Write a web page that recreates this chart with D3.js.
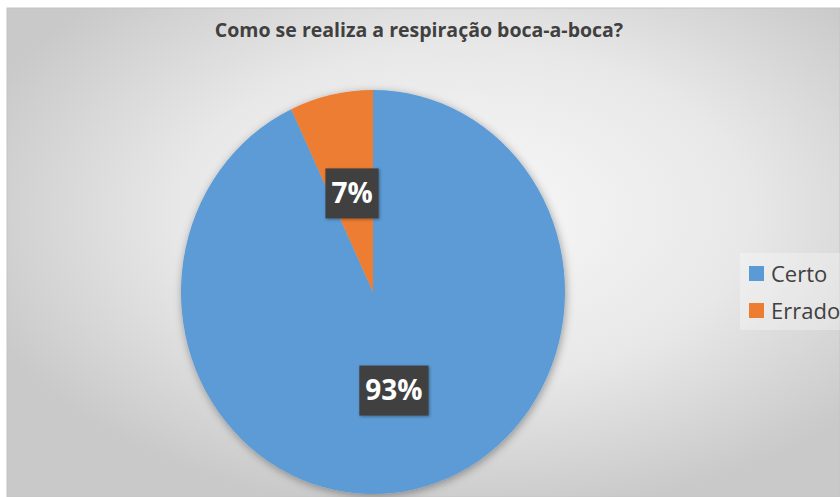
<!DOCTYPE html>
<html>
<head>
<meta charset="utf-8">
<script src="https://cdn.jsdelivr.net/npm/d3@7"></script>
<style>
  body { margin: 0; background: #fff; }
  svg { display: block; }
</style>
</head>
<body>
<div id="chart"></div>
<script>
const categories = ["Certo", "Errado"];
const values = [93, 7];
const labels = ["93%", "7%"];
const title = "Como se realiza a respiração boca-a-boca?";

const width = 840, height = 497;
const cx = 373, cy = 292;
const r = 192;
const stretch = 202 / 192;

const color = d3.scaleOrdinal()
  .domain(categories)
  .range(["#5b9bd5", "#ed7d31"]);

const svg = d3.select("#chart")
  .append("svg")
    .attr("width", width)
    .attr("height", height);

const defs = svg.append("defs");

const grad = defs.append("radialGradient")
  .attr("id", "bg")
  .attr("cx", "55%").attr("cy", "42%").attr("r", "62%");
grad.append("stop").attr("offset", "0%").attr("stop-color", "#f8f8f8");
grad.append("stop").attr("offset", "55%").attr("stop-color", "#e8e8e8");
grad.append("stop").attr("offset", "100%").attr("stop-color", "#c9c9c9");

const shadow = defs.append("filter")
  .attr("id", "shadow")
  .attr("x", "-20%").attr("y", "-20%").attr("width", "140%").attr("height", "140%");
shadow.append("feDropShadow")
  .attr("dx", 1).attr("dy", 2)
  .attr("stdDeviation", 4)
  .attr("flood-color", "#000")
  .attr("flood-opacity", 0.35);

const lblShadow = defs.append("filter").attr("id", "lblshadow");
lblShadow.append("feDropShadow")
  .attr("dx", 1).attr("dy", 1)
  .attr("stdDeviation", 1.5)
  .attr("flood-color", "#000")
  .attr("flood-opacity", 0.35);

// chart area
svg.append("rect")
  .attr("x", 7).attr("y", 8)
  .attr("width", width - 7).attr("height", height - 8)
  .attr("fill", "url(#bg)")
  .attr("stroke", "#c4c4c4")
  .attr("stroke-width", 1);

svg.append("text")
  .attr("x", 419)
  .attr("y", 37)
  .attr("text-anchor", "middle")
  .attr("font-family", "'Open Sans', sans-serif")
  .attr("font-weight", "bold")
  .attr("font-size", 19.5)
  .attr("fill", "#404040")
  .text(title);

const pie = d3.pie().sort(null)(values);
const arc = d3.arc().innerRadius(0).outerRadius(r);

const g = svg.append("g")
  .attr("transform", `translate(${cx},${cy}) scale(1,${stretch})`);

g.append("g")
  .attr("filter", "url(#shadow)")
  .selectAll("path")
  .data(pie)
  .enter().append("path")
    .attr("d", arc)
    .attr("fill", (d, i) => color(categories[i]));

// data labels
const lbl = svg.append("g")
  .attr("font-family", "'Open Sans', sans-serif")
  .attr("font-weight", "bold")
  .attr("font-size", 28);

pie.forEach((d, i) => {
  const [x, y] = arc.centroid(d);
  const px = cx + x, py = cy + y * stretch;
  const grp = lbl.append("g").attr("transform", `translate(${px},${py})`);
  const t = grp.append("text")
    .attr("text-anchor", "middle")
    .attr("dy", "0.35em")
    .attr("fill", "#fff")
    .text(labels[i]);
  const w = t.node().getComputedTextLength();
  grp.insert("rect", "text")
    .attr("x", -w / 2 - 6).attr("y", -25)
    .attr("width", w + 12).attr("height", 50)
    .attr("fill", "#404040")
    .attr("filter", "url(#lblshadow)");
});

// legend
svg.append("rect")
  .attr("x", 740).attr("y", 253)
  .attr("width", 100).attr("height", 77)
  .attr("fill", "#fff")
  .attr("opacity", 0.3);

const legend = svg.selectAll(".legend")
  .data(categories)
  .enter().append("g")
    .attr("class", "legend")
    .attr("transform", (d, i) => `translate(749,${266 + i * 37})`);

legend.append("rect")
  .attr("width", 15).attr("height", 15)
  .attr("fill", d => color(d));

legend.append("text")
  .attr("x", 22).attr("y", 16)
  .attr("font-family", "'Open Sans', sans-serif")
  .attr("font-size", 22)
  .attr("fill", "#404040")
  .text(d => d);
</script>
</body>
</html>
